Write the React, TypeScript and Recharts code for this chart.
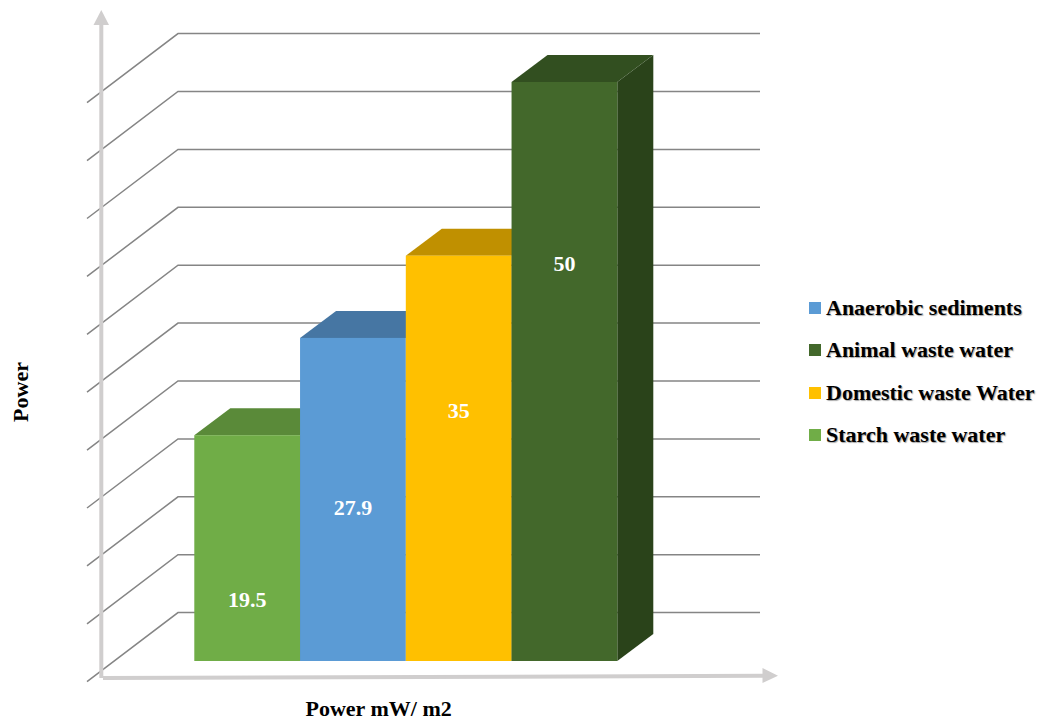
import { BarChart, Bar, XAxis, YAxis, CartesianGrid, Legend, LabelList } from 'recharts';

const category = 'Power mW/ m2';
const seriesNames = ['Starch waste water', 'Anaerobic sediments', 'Domestic waste Water', 'Animal waste water'];
const seriesValues = [19.5, 27.9, 35, 50];
const frontColors = ['#70AD47', '#5B9BD5', '#FFC000', '#43682B'];
const topColors = ['#5A8A39', '#4676A3', '#C09000', '#324F20'];
const sideColors = ['#466D2C', '#38618A', '#9A7400', '#2A431A'];
const yTicks = [0, 5, 10, 15, 20, 25, 30, 35, 40, 45, 50];
// how far up each bar its value label sits
const labelRise = [0.27, 0.474, 0.617, 0.686];

const row: Record<string, string | number> = { category };
seriesNames.forEach((name, i) => { row[name] = seriesValues[i]; });
const data = [row];

const FONT = '"Liberation Serif", "Times New Roman", serif';
const GRID = '#858585';
const AXIS = '#D0CECE';

// depth of the 3D box that holds the chart
const WALL_DX = 63.7;
const WALL_DY = 48.4;
const TICK_DX = -27.3;
const TICK_DY = 20.7;
const WALL_RIGHT = 760;
// depth of each bar
const BAR_DX = 36;
const BAR_DY = 27;

function GridLine(props: any) {
  const { x1, y1, index } = props;
  if (y1 == null) return null;
  const d = `M${x1 + TICK_DX},${y1 + TICK_DY} L${x1 + WALL_DX},${y1 - WALL_DY} L${WALL_RIGHT},${y1 - WALL_DY}`;
  return <path key={index} d={d} fill="none" stroke={GRID} strokeWidth={1.5} />;
}

function ValueTick({ x, y, payload }: any) {
  return (
    <text
      x={x + TICK_DX - 20}
      y={y + TICK_DY}
      dy={7}
      textAnchor="end"
      fontFamily={FONT}
      fontWeight="bold"
      fontSize={22}
      fill="#000"
    >
      {payload.value}
    </text>
  );
}

function CategoryTick({ x, payload }: any) {
  return (
    <text x={x - 27} y={716} textAnchor="middle" fontFamily={FONT} fontWeight="bold" fontSize={22} fill="#000">
      {payload.value}
    </text>
  );
}

function Box3D(props: any) {
  const { x, y, width, height, fill, top, side } = props;
  const r = x + width;
  return (
    <g>
      <path
        d={`M${r},${y} L${r + BAR_DX},${y - BAR_DY} L${r + BAR_DX},${y + height - BAR_DY} L${r},${y + height} Z`}
        fill={side}
      />
      <path d={`M${x},${y} L${x + BAR_DX},${y - BAR_DY} L${r + BAR_DX},${y - BAR_DY} L${r},${y} Z`} fill={top} />
      <rect x={x} y={y} width={width} height={height} fill={fill} />
    </g>
  );
}

function ValueLabel({ x, y, width, height, value, rise }: any) {
  return (
    <text
      x={x + width / 2}
      y={y + height - height * rise}
      dy={7}
      textAnchor="middle"
      fontFamily={FONT}
      fontWeight="bold"
      fontSize={22}
      fill="#fff"
    >
      {value}
    </text>
  );
}

function LegendList({ payload }: any) {
  return (
    <div style={{ fontFamily: FONT, fontWeight: 'bold', fontSize: 22, color: '#000' }}>
      {(payload || []).map((item: any) => (
        <div key={item.value} style={{ display: 'flex', alignItems: 'center', height: 42.3, whiteSpace: 'nowrap' }}>
          <span style={{ width: 12, height: 12, background: item.color, marginRight: 5, flex: 'none' }} />
          <span style={{ textShadow: '1px 1px 1px rgba(0,0,0,0.35)' }}>{item.value}</span>
        </div>
      ))}
    </div>
  );
}

export default function App() {
  return (
    <div style={{ position: 'absolute', left: 0, top: 0, width: 1062, height: 724, background: '#fff' }}>
      <BarChart
        width={1062}
        height={724}
        data={data}
        margin={{ top: 82, right: 112, bottom: 0, left: 114.3 }}
        barGap={0}
        barSize={105.75}
      >
        <CartesianGrid vertical={false} horizontal={<GridLine />} />
        <XAxis
          dataKey="category"
          height={63}
          axisLine={false}
          tickLine={false}
          tick={<CategoryTick />}
        />
        <YAxis
          width={0}
          domain={[0, 50]}
          ticks={yTicks}
          interval={0}
          axisLine={false}
          tickLine={false}
          tick={<ValueTick />}
        />
        <Legend
          layout="vertical"
          align="right"
          verticalAlign="middle"
          width={253}
          wrapperStyle={{ left: 809, right: 'auto', top: 287 }}
          content={<LegendList />}
        />

        {/* value axis arrow */}
        <path d="M101.3,678 L101.3,24" stroke={AXIS} strokeWidth={4} fill="none" />
        <path d="M101.3,10 L109,25 L93.5,25 Z" fill={AXIS} />
        {/* category axis arrow */}
        <path d="M103,678 L764,675.8" stroke={AXIS} strokeWidth={4} fill="none" />
        <path d="M778,675.8 L762.5,668 L762.5,683 Z" fill={AXIS} />

        <text
          transform="translate(28,392) rotate(-90)"
          textAnchor="middle"
          fontFamily={FONT}
          fontWeight="bold"
          fontSize={22}
          fill="#000"
        >
          Power
        </text>

        {seriesNames.map((name, i) => (
          <Bar
            key={name}
            dataKey={name}
            fill={frontColors[i]}
            isAnimationActive={false}
            shape={(p: any) => <Box3D {...p} fill={frontColors[i]} top={topColors[i]} side={sideColors[i]} />}
          >
            <LabelList dataKey={name} content={(p: any) => <ValueLabel {...p} rise={labelRise[i]} />} />
          </Bar>
        ))}
      </BarChart>
    </div>
  );
}
